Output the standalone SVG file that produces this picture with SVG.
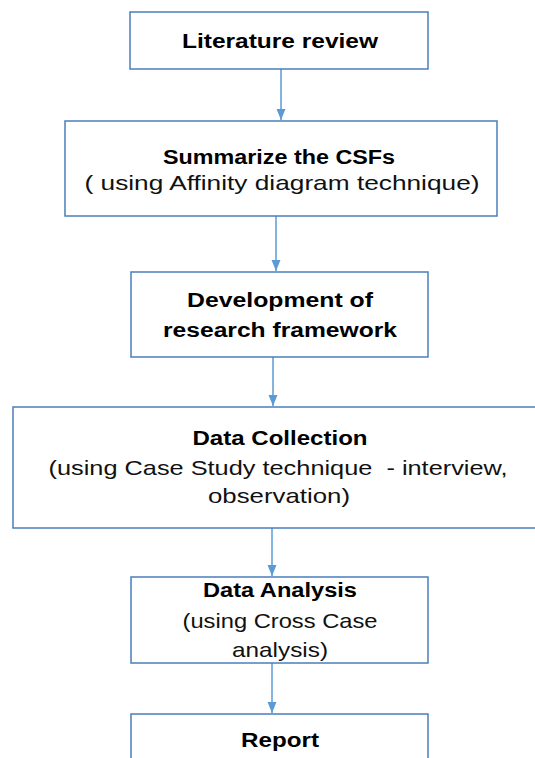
<svg xmlns="http://www.w3.org/2000/svg" width="535" height="758" viewBox="0 0 535 758">
  <style>
    .box { fill: #ffffff; stroke: #4a7ebb; stroke-width: 1.5; }
    .conn { stroke: #5b9bd5; stroke-width: 1.5; fill: none; }
    .b { font-family: "Liberation Sans", Arial, sans-serif; font-size: 20px; font-weight: bold; fill: #000; text-anchor: middle; }
    .r { font-family: "Liberation Sans", Arial, sans-serif; font-size: 21px; fill: #111; text-anchor: middle; }
  </style>
  <defs>
    <marker id="ah" markerUnits="userSpaceOnUse" markerWidth="12" markerHeight="12" viewBox="0 0 12 12" refX="11" refY="6" orient="auto">
      <path d="M0,1.5 L11,6 L0,10.5 Z" fill="#5b9bd5"/>
    </marker>
  </defs>
  <rect width="535" height="758" fill="#ffffff"/>

  <g id="connectors">
    <line class="conn" x1="281" y1="69" x2="281" y2="120" marker-end="url(#ah)"/>
    <line class="conn" x1="276" y1="216" x2="276" y2="271" marker-end="url(#ah)"/>
    <line class="conn" x1="273" y1="357" x2="273" y2="406" marker-end="url(#ah)"/>
    <line class="conn" x1="272" y1="528" x2="272" y2="576" marker-end="url(#ah)"/>
    <line class="conn" x1="272" y1="663" x2="272" y2="713" marker-end="url(#ah)"/>
  </g>

  <g id="literature-review">
    <rect class="box" x="130" y="12" width="298" height="57"/>
    <text class="b" x="280" y="48" textLength="196" lengthAdjust="spacingAndGlyphs">Literature review</text>
  </g>

  <g id="summarize-csfs">
    <rect class="box" x="65" y="121" width="432" height="95"/>
    <text class="b" x="279" y="164" textLength="232" lengthAdjust="spacingAndGlyphs">Summarize the CSFs</text>
    <text class="r" x="282" y="190" textLength="395" lengthAdjust="spacingAndGlyphs">( using Affinity diagram technique)</text>
  </g>

  <g id="research-framework">
    <rect class="box" x="131" y="272" width="297" height="85"/>
    <text class="b" x="280" y="307" textLength="186" lengthAdjust="spacingAndGlyphs">Development of</text>
    <text class="b" x="280" y="337" textLength="234" lengthAdjust="spacingAndGlyphs">research framework</text>
  </g>

  <g id="data-collection">
    <rect class="box" x="13" y="407" width="535" height="121"/>
    <text class="b" x="280" y="445" textLength="175" lengthAdjust="spacingAndGlyphs">Data Collection</text>
    <text class="r" x="278" y="475" textLength="459" lengthAdjust="spacingAndGlyphs" xml:space="preserve">(using Case Study technique  - interview,</text>
    <text class="r" x="279" y="503" textLength="142" lengthAdjust="spacingAndGlyphs">observation)</text>
  </g>

  <g id="data-analysis">
    <rect class="box" x="131" y="577" width="297" height="86"/>
    <text class="b" x="280" y="597" textLength="154" lengthAdjust="spacingAndGlyphs">Data Analysis</text>
    <text class="r" x="280" y="628" textLength="195" lengthAdjust="spacingAndGlyphs">(using Cross Case</text>
    <text class="r" x="280" y="657" textLength="96" lengthAdjust="spacingAndGlyphs">analysis)</text>
  </g>

  <g id="report">
    <rect class="box" x="131" y="714" width="297" height="60"/>
    <text class="b" x="280" y="747" textLength="78" lengthAdjust="spacingAndGlyphs">Report</text>
  </g>
</svg>
